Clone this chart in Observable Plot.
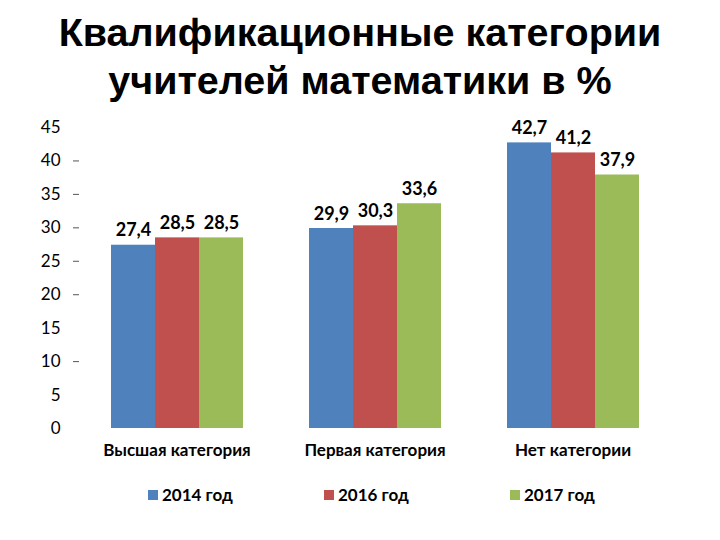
<!DOCTYPE html>
<html><head><meta charset="utf-8">
<script src="https://cdn.jsdelivr.net/npm/d3@7"></script>
<script src="https://cdn.jsdelivr.net/npm/@observablehq/plot@0.6"></script>
<style>
body{margin:0;background:#fff;width:720px;height:540px;overflow:hidden;font-family:Lato,"Open Sans",sans-serif;}
#title{height:108px;box-sizing:border-box;padding-top:8px;text-align:center;font-family:"Liberation Sans",Arial,sans-serif;font-weight:bold;font-size:39.5px;line-height:48px;color:#000;}
#legend{position:relative;height:40px;font-weight:bold;font-size:17px;color:#000;}
#legend .it{position:absolute;top:10px;display:flex;align-items:center;}
#legend .sw{width:10px;height:10px;margin-right:4px;}
</style></head>
<body>
<div id="title">Квалификационные категории<br>учителей математики в %</div>
<div id="chart"></div>
<div id="legend"></div>
<script>
const categories = ["Высшая категория", "Первая категория", "Нет категории"];
const years = ["2014 год", "2016 год", "2017 год"];
const v2014 = [27.4, 29.9, 42.7];
const v2016 = [28.5, 30.3, 41.2];
const v2017 = [28.5, 33.6, 37.9];
const colors = ["#4F81BD", "#C0504D", "#9BBB59"];
const yTickLabels = [0, 5, 10, 15, 20, 25, 30, 35, 40, 45];
const yTickDashes = [10, 20, 25, 30, 35, 40];

const series = [v2014, v2016, v2017];
const data = [];
categories.forEach((c, i) => years.forEach((y, j) => data.push({cat: c, year: y, value: series[j][i]})));
const fmt = d => d.value.toFixed(1).replace(".", ",");

const chart = Plot.plot({
  width: 720,
  height: 366,
  marginLeft: 79,
  marginRight: 50,
  marginTop: 19,
  marginBottom: 46,
  style: {fontFamily: "Lato, 'Open Sans', sans-serif", fontSize: "17px", color: "#000", background: "#fff"},
  fx: {domain: categories, paddingInner: 0.33, paddingOuter: 0.154, label: null},
  x: {domain: years, padding: 0, axis: null},
  y: {domain: [0, 45], label: null},
  color: {domain: years, range: colors},
  marks: [
    Plot.axisY({ticks: yTickLabels, tickSize: 0, tickPadding: 50, fontSize: 17}),
    Plot.axisY({ticks: yTickDashes, tickSize: 6, dx: -31, tickFormat: () => "", stroke: "#555"}),
    Plot.axisFx({anchor: "bottom", tickSize: 0, tickPadding: 15, fontWeight: "bold", fontSize: 17}),
    Plot.barY(data, {fx: "cat", x: "year", y: "value", fill: "year"}),
    Plot.text(data, {fx: "cat", x: "year", y: "value", text: fmt, lineAnchor: "bottom", dy: -9, fontWeight: "bold", fontSize: 18})
  ]
});
document.getElementById("chart").appendChild(chart);

const legendX = [148, 324, 510];
const lg = document.getElementById("legend");
years.forEach((y, i) => {
  const it = document.createElement("div");
  it.className = "it";
  it.style.left = legendX[i] + "px";
  it.innerHTML = `<span class="sw" style="background:${colors[i]}"></span><span>${y}</span>`;
  lg.appendChild(it);
});
</script>
</body></html>
